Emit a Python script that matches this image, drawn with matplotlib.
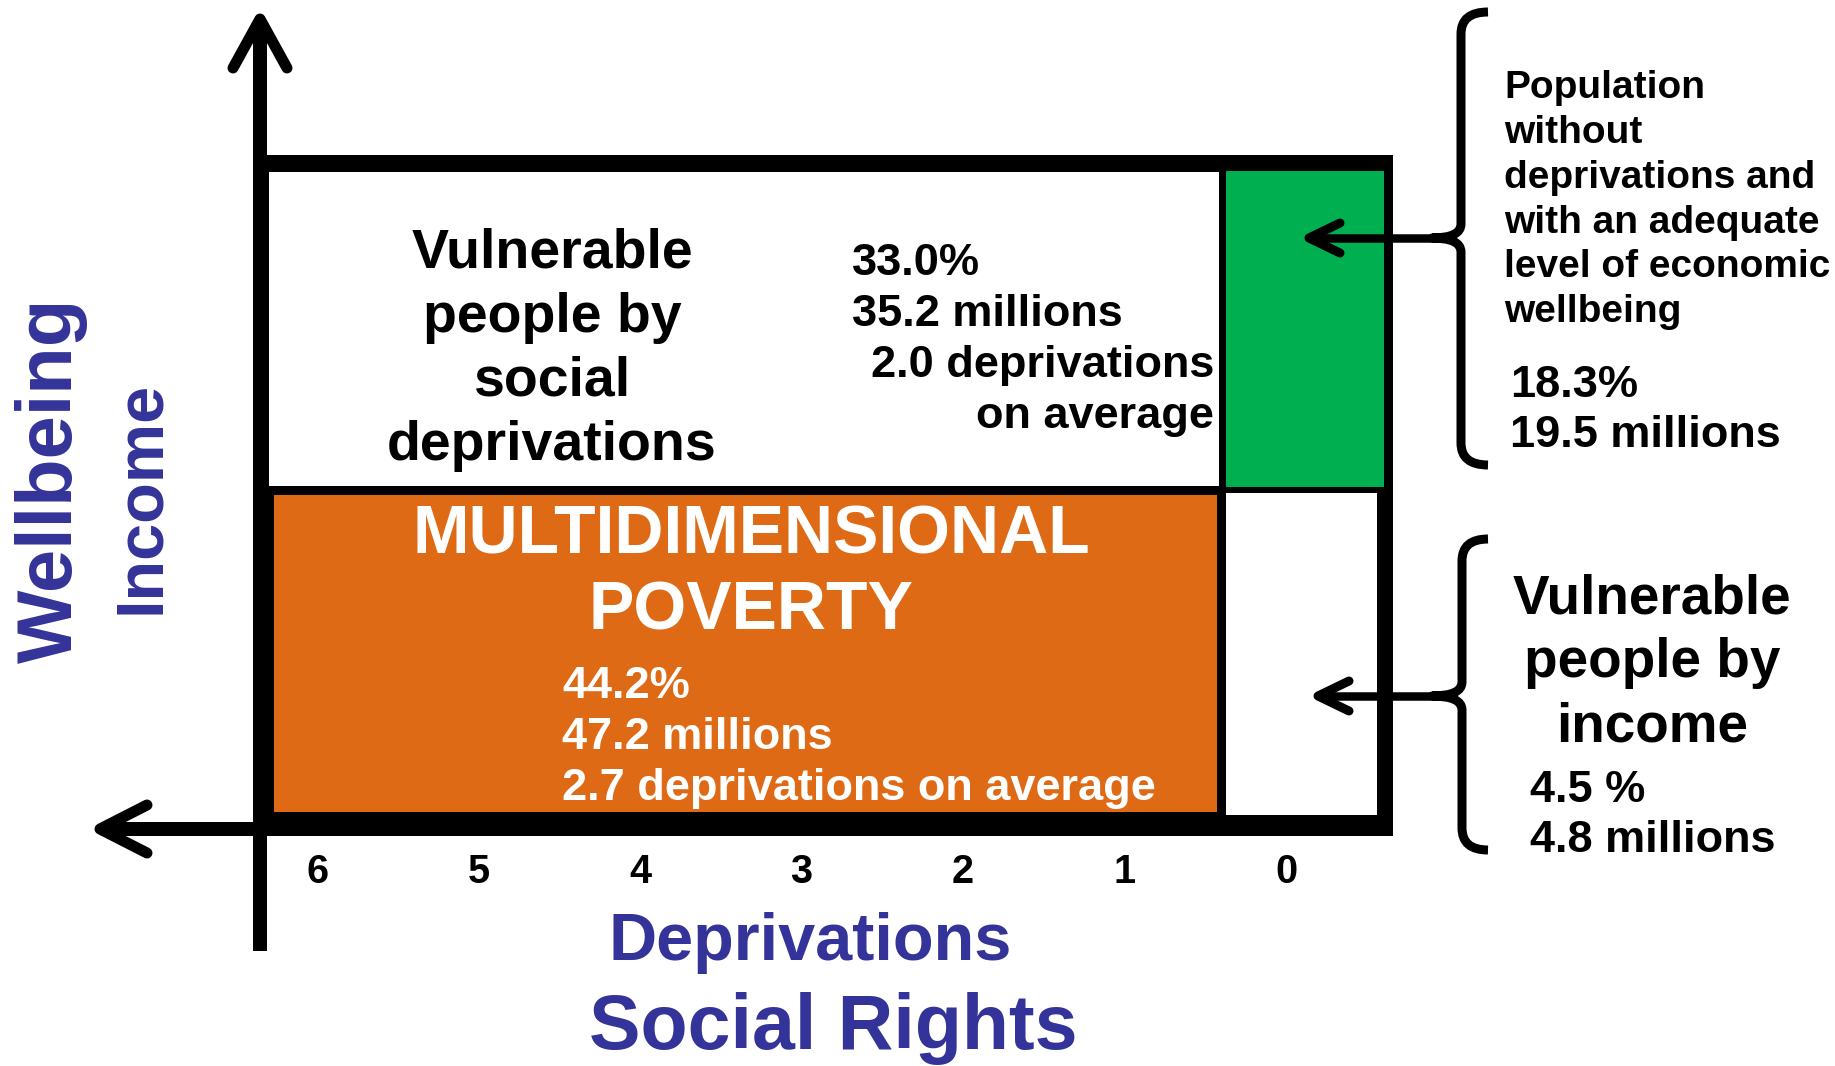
import matplotlib
matplotlib.use("Agg")
import matplotlib.pyplot as plt
from matplotlib.patches import Rectangle, PathPatch
from matplotlib.path import Path

# ---------------- data ----------------
deprivation_ticks = [6, 5, 4, 3, 2, 1, 0]
group_names = ["Vulnerable people by social deprivations",
               "MULTIDIMENSIONAL POVERTY",
               "Population without deprivations and with an adequate level of economic wellbeing",
               "Vulnerable people by income"]
group_pct = [33.0, 44.2, 18.3, 4.5]
group_millions = [35.2, 47.2, 19.5, 4.8]
group_avg_depr = [2.0, 2.7]

# ---------------- style ----------------
W, H = 1835, 1066
PT = 72 / 100.0            # points per pixel at dpi 100
FAM = ["Liberation Sans", "DejaVu Sans"]
BLUE = "#333399"
ORANGE = "#DF6A15"
GREEN = "#00B050"

fig = plt.figure(figsize=(W / 100, H / 100), dpi=100)
ax = fig.add_axes([0, 0, 1, 1])
ax.set_xlim(0, W)
ax.set_ylim(H, 0)
ax.axis("off")


def txt(x, y, s, size, color="black", ha="left", va="baseline", **kw):
    ax.text(x, y, s, fontsize=size, color=color, ha=ha, va=va,
            family=FAM, fontweight="bold", **kw)


# ---------------- box ----------------
ax.add_patch(Rectangle((253, 155), 1393 - 253, 836 - 155, fc="black", ec="none", zorder=1))
ax.add_patch(Rectangle((269, 172), 1219 - 269, 486 - 172, fc="white", ec="none", zorder=2))
ax.add_patch(Rectangle((1226, 171), 1384 - 1226, 487 - 171, fc=GREEN, ec="none", zorder=2))
ax.add_patch(Rectangle((274, 495), 1217 - 274, 812 - 495, fc=ORANGE, ec="none", zorder=2))
ax.add_patch(Rectangle((1226, 493), 1377 - 1226, 815 - 493, fc="white", ec="none", zorder=2))

# ---------------- axes arrows ----------------
ax.plot([260, 260], [951, 22], color="black", lw=14 * PT, solid_capstyle="butt", zorder=3)
ax.plot([233, 260, 287], [68, 19, 68], color="black", lw=11 * PT,
        solid_capstyle="round", solid_joinstyle="round", zorder=3)
ax.plot([102, 260], [829, 829], color="black", lw=14 * PT, solid_capstyle="butt", zorder=3)
ax.plot([147, 100, 147], [805, 829, 853], color="black", lw=11 * PT,
        solid_capstyle="round", solid_joinstyle="round", zorder=3)

# ---------------- tick labels ----------------
for d in deprivation_ticks:
    txt(1286 - d * 161.5, 883, str(d), 28.5, ha="center")

# ---------------- axis titles ----------------
txt(810, 960, "Deprivations", 48, color=BLUE, ha="center")
txt(833, 1049, "Social Rights", 55.5, color=BLUE, ha="center")
txt(72, 480, "Wellbeing", 56, color=BLUE, ha="center", rotation=90, rotation_mode="anchor")
txt(159, 497, "Income", 48, color=BLUE, ha="center", rotation=90, rotation_mode="anchor")

# ---------------- vulnerable by social deprivations ----------------
for s, yb in zip(["Vulnerable", "people by", "social", "deprivations"], [268, 332, 396, 460]):
    txt(552, yb, s, 40, ha="center", zorder=5)
txt(852, 275, f"{group_pct[0]:.1f}%", 32.5, zorder=5)
txt(852, 326, f"{group_millions[0]:.1f} millions", 32.5, zorder=5)
txt(1214, 377, f"{group_avg_depr[0]:.1f} deprivations", 32.5, ha="right", zorder=5)
txt(1214, 428, "on average", 32.5, ha="right", zorder=5)

# ---------------- multidimensional poverty ----------------
txt(751, 554, "MULTIDIMENSIONAL", 49, color="white", ha="center", zorder=5)
txt(751, 630, "POVERTY", 49, color="white", ha="center", zorder=5)
txt(562, 698, f"{group_pct[1]:.1f}%", 32.5, color="white", zorder=5)
txt(562, 749, f"{group_millions[1]:.1f} millions", 32.5, color="white", zorder=5)
txt(562, 800, f"{group_avg_depr[1]:.1f} deprivations on average", 32.5, color="white", zorder=5)


# ---------------- braces and arrows ----------------
def brace(x, top, mid, bot, hook=1488, nub=1432):
    verts = [(hook, top), (x, top), (x, top + 22),
             (x, mid - 14),
             (x, mid), (nub, mid),
             (x, mid), (x, mid + 14),
             (x, bot - 22),
             (x, bot), (hook, bot)]
    codes = [Path.MOVETO, Path.CURVE3, Path.CURVE3,
             Path.LINETO,
             Path.CURVE3, Path.CURVE3,
             Path.CURVE3, Path.CURVE3,
             Path.LINETO,
             Path.CURVE3, Path.CURVE3]
    ax.add_patch(PathPatch(Path(verts, codes), fc="none", ec="black",
                           lw=9 * PT, capstyle="butt", joinstyle="round", zorder=4))


def left_arrow(x0, x1, y):
    ax.plot([x0, x1 + 3], [y, y], color="black", lw=8.5 * PT, solid_capstyle="butt", zorder=4)
    ax.plot([x1 + 31, x1, x1 + 31], [y - 15, y, y + 15], color="black", lw=9 * PT,
            solid_capstyle="round", solid_joinstyle="round", zorder=4)


brace(1461, 12, 238, 465)
left_arrow(1440, 1309, 238)
brace(1462, 539, 696, 850)
left_arrow(1440, 1318, 696)

# ---------------- right-side labels ----------------
for s, yb in zip(["Population", "without", "deprivations and", "with an adequate",
                  "level of economic", "wellbeing"], [98, 143, 188, 233, 277, 322]):
    txt(1504, yb, s, 28)
txt(1510, 397, f"{group_pct[2]:.1f}%", 32.5)
txt(1510, 447, f"{group_millions[2]:.1f} millions", 32.5)

for s, yb in zip(["Vulnerable", "people by", "income"], [613, 677, 742]):
    txt(1652, yb, s, 39.5, ha="center")
txt(1530, 802, f"{group_pct[3]:.1f} %", 32.5)
txt(1530, 852, f"{group_millions[3]:.1f} millions", 32.5)

fig.savefig("out.png", dpi=100, facecolor="white")
